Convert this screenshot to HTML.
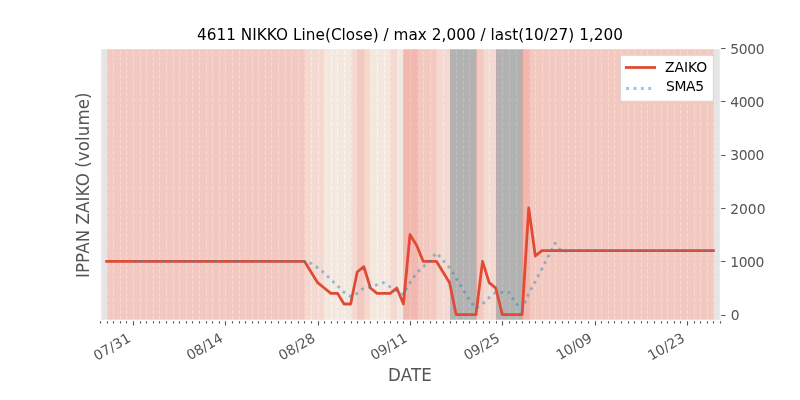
<!DOCTYPE html>
<html lang="en"><head><meta charset="utf-8"><title>4611 NIKKO</title>
<style>html,body{margin:0;padding:0;background:#fff;overflow:hidden}svg text{white-space:pre}</style></head>
<body>
<svg width="800" height="400" viewBox="0 0 800 400" style="display:block">
<rect x="0" y="0" width="800" height="400" fill="#ffffff"/>
<rect x="100.0" y="48.0" width="620.0" height="272.0" fill="#E5E5E5"/>
<defs><clipPath id="ax"><rect x="100" y="48" width="620" height="272"/></clipPath></defs>
<g clip-path="url(#ax)">
<path d="M100.5 320.0V48.0M107.5 320.0V48.0M113.5 320.0V48.0M120.5 320.0V48.0M126.5 320.0V48.0M133.5 320.0V48.0M140.5 320.0V48.0M146.5 320.0V48.0M153.5 320.0V48.0M159.5 320.0V48.0M166.5 320.0V48.0M173.5 320.0V48.0M179.5 320.0V48.0M186.5 320.0V48.0M192.5 320.0V48.0M199.5 320.0V48.0M206.5 320.0V48.0M212.5 320.0V48.0M219.5 320.0V48.0M225.5 320.0V48.0M232.5 320.0V48.0M239.5 320.0V48.0M245.5 320.0V48.0M252.5 320.0V48.0M258.5 320.0V48.0M265.5 320.0V48.0M271.5 320.0V48.0M278.5 320.0V48.0M285.5 320.0V48.0M291.5 320.0V48.0M298.5 320.0V48.0M304.5 320.0V48.0M311.5 320.0V48.0M318.5 320.0V48.0M324.5 320.0V48.0M331.5 320.0V48.0M337.5 320.0V48.0M344.5 320.0V48.0M351.5 320.0V48.0M357.5 320.0V48.0M364.5 320.0V48.0M370.5 320.0V48.0M377.5 320.0V48.0M384.5 320.0V48.0M390.5 320.0V48.0M397.5 320.0V48.0M403.5 320.0V48.0M410.5 320.0V48.0M417.5 320.0V48.0M423.5 320.0V48.0M430.5 320.0V48.0M436.5 320.0V48.0M443.5 320.0V48.0M450.5 320.0V48.0M456.5 320.0V48.0M463.5 320.0V48.0M469.5 320.0V48.0M476.5 320.0V48.0M483.5 320.0V48.0M489.5 320.0V48.0M496.5 320.0V48.0M502.5 320.0V48.0M509.5 320.0V48.0M516.5 320.0V48.0M522.5 320.0V48.0M529.5 320.0V48.0M535.5 320.0V48.0M542.5 320.0V48.0M549.5 320.0V48.0M555.5 320.0V48.0M562.5 320.0V48.0M568.5 320.0V48.0M575.5 320.0V48.0M581.5 320.0V48.0M588.5 320.0V48.0M595.5 320.0V48.0M601.5 320.0V48.0M608.5 320.0V48.0M614.5 320.0V48.0M621.5 320.0V48.0M628.5 320.0V48.0M634.5 320.0V48.0M641.5 320.0V48.0M647.5 320.0V48.0M654.5 320.0V48.0M661.5 320.0V48.0M667.5 320.0V48.0M674.5 320.0V48.0M680.5 320.0V48.0M687.5 320.0V48.0M694.5 320.0V48.0M700.5 320.0V48.0M707.5 320.0V48.0M713.5 320.0V48.0M720.5 320.0V48.0" fill="none" stroke="#ffffff" stroke-width="1.111" stroke-dasharray="4.111 1.778"/>
<rect x="107.5" y="48.5" width="197.0" height="272.0" fill="#FDAD9D" fill-opacity="0.5" stroke="#FDAD9D" stroke-opacity="0.5" stroke-width="0.694"/>
<rect x="304.5" y="48.5" width="20.0" height="272.0" fill="#FFCDBF" fill-opacity="0.5" stroke="#FFCDBF" stroke-opacity="0.5" stroke-width="0.694"/>
<rect x="324.5" y="48.5" width="27.0" height="272.0" fill="#FFEBDB" fill-opacity="0.5" stroke="#FFEBDB" stroke-opacity="0.5" stroke-width="0.694"/>
<rect x="351.5" y="48.5" width="6.0" height="272.0" fill="#FFCDBF" fill-opacity="0.5" stroke="#FFCDBF" stroke-opacity="0.5" stroke-width="0.694"/>
<rect x="357.5" y="48.5" width="7.0" height="272.0" fill="#FDAD9D" fill-opacity="0.5" stroke="#FDAD9D" stroke-opacity="0.5" stroke-width="0.694"/>
<rect x="364.5" y="48.5" width="6.0" height="272.0" fill="#FFCDBF" fill-opacity="0.5" stroke="#FFCDBF" stroke-opacity="0.5" stroke-width="0.694"/>
<rect x="370.5" y="48.5" width="20.0" height="272.0" fill="#FFEBDB" fill-opacity="0.5" stroke="#FFEBDB" stroke-opacity="0.5" stroke-width="0.694"/>
<rect x="390.5" y="48.5" width="7.0" height="272.0" fill="#FFCDBF" fill-opacity="0.5" stroke="#FFCDBF" stroke-opacity="0.5" stroke-width="0.694"/>
<rect x="397.5" y="48.5" width="6.0" height="272.0" fill="#FFEBDB" fill-opacity="0.5" stroke="#FFEBDB" stroke-opacity="0.5" stroke-width="0.694"/>
<rect x="403.5" y="48.5" width="14.0" height="272.0" fill="#FD8B79" fill-opacity="0.5" stroke="#FD8B79" stroke-opacity="0.5" stroke-width="0.694"/>
<rect x="417.5" y="48.5" width="19.0" height="272.0" fill="#FDAD9D" fill-opacity="0.5" stroke="#FDAD9D" stroke-opacity="0.5" stroke-width="0.694"/>
<rect x="436.5" y="48.5" width="14.0" height="272.0" fill="#FFCDBF" fill-opacity="0.5" stroke="#FFCDBF" stroke-opacity="0.5" stroke-width="0.694"/>
<rect x="450.5" y="48.5" width="26.0" height="272.0" fill="#808080" fill-opacity="0.5" stroke="#808080" stroke-opacity="0.5" stroke-width="0.694"/>
<rect x="476.5" y="48.5" width="7.0" height="272.0" fill="#FDAD9D" fill-opacity="0.5" stroke="#FDAD9D" stroke-opacity="0.5" stroke-width="0.694"/>
<rect x="483.5" y="48.5" width="13.0" height="272.0" fill="#FFCDBF" fill-opacity="0.5" stroke="#FFCDBF" stroke-opacity="0.5" stroke-width="0.694"/>
<rect x="496.5" y="48.5" width="26.0" height="272.0" fill="#808080" fill-opacity="0.5" stroke="#808080" stroke-opacity="0.5" stroke-width="0.694"/>
<rect x="522.5" y="48.5" width="7.0" height="272.0" fill="#FD8B79" fill-opacity="0.5" stroke="#FD8B79" stroke-opacity="0.5" stroke-width="0.694"/>
<rect x="529.5" y="48.5" width="184.0" height="272.0" fill="#FDAD9D" fill-opacity="0.5" stroke="#FDAD9D" stroke-opacity="0.5" stroke-width="0.694"/>
<polyline points="106.60,261.33 113.19,261.33 119.79,261.33 126.38,261.33 132.98,261.33 139.57,261.33 146.17,261.33 152.77,261.33 159.36,261.33 165.96,261.33 172.55,261.33 179.15,261.33 185.74,261.33 192.34,261.33 198.94,261.33 205.53,261.33 212.13,261.33 218.72,261.33 225.32,261.33 231.91,261.33 238.51,261.33 245.11,261.33 251.70,261.33 258.30,261.33 264.89,261.33 271.49,261.33 278.09,261.33 284.68,261.33 291.28,261.33 297.87,261.33 304.47,261.33 311.06,272.00 317.66,282.67 324.26,288.00 330.85,293.33 337.45,293.33 344.04,304.00 350.64,304.00 357.23,272.00 363.83,266.67 370.43,288.00 377.02,293.33 383.62,293.33 390.21,293.33 396.81,288.00 403.40,304.00 410.00,234.67 416.60,245.33 423.19,261.33 429.79,261.33 436.38,261.33 442.98,272.00 449.57,282.67 456.17,314.67 462.77,314.67 469.36,314.67 475.96,314.67 482.55,261.33 489.15,282.67 495.74,288.00 502.34,314.67 508.94,314.67 515.53,314.67 522.13,314.67 528.72,208.00 535.32,256.00 541.91,250.67 548.51,250.67 555.11,250.67 561.70,250.67 568.30,250.67 574.89,250.67 581.49,250.67 588.09,250.67 594.68,250.67 601.28,250.67 607.87,250.67 614.47,250.67 621.06,250.67 627.66,250.67 634.26,250.67 640.85,250.67 647.45,250.67 654.04,250.67 660.64,250.67 667.23,250.67 673.83,250.67 680.43,250.67 687.02,250.67 693.62,250.67 700.21,250.67 706.81,250.67 713.40,250.67" fill="none" stroke="#E24A33" stroke-width="2.778" stroke-linecap="square" stroke-linejoin="round"/>
<polyline points="132.98,261.33 139.57,261.33 146.17,261.33 152.77,261.33 159.36,261.33 165.96,261.33 172.55,261.33 179.15,261.33 185.74,261.33 192.34,261.33 198.94,261.33 205.53,261.33 212.13,261.33 218.72,261.33 225.32,261.33 231.91,261.33 238.51,261.33 245.11,261.33 251.70,261.33 258.30,261.33 264.89,261.33 271.49,261.33 278.09,261.33 284.68,261.33 291.28,261.33 297.87,261.33 304.47,261.33 311.06,263.47 317.66,267.73 324.26,273.07 330.85,279.47 337.45,285.87 344.04,292.27 350.64,296.53 357.23,293.33 363.83,288.00 370.43,286.93 377.02,284.80 383.62,282.67 390.21,286.93 396.81,291.20 403.40,294.40 410.00,282.67 416.60,273.07 423.19,266.67 429.79,261.33 436.38,252.80 442.98,260.27 449.57,267.73 456.17,278.40 462.77,289.07 469.36,299.73 475.96,308.27 482.55,304.00 489.15,297.60 495.74,292.27 502.34,292.27 508.94,292.27 515.53,302.93 522.13,309.33 528.72,293.33 535.32,281.60 541.91,268.80 548.51,256.00 555.11,243.20 561.70,251.73 568.30,250.67 574.89,250.67 581.49,250.67 588.09,250.67 594.68,250.67 601.28,250.67 607.87,250.67 614.47,250.67 621.06,250.67 627.66,250.67 634.26,250.67 640.85,250.67 647.45,250.67 654.04,250.67 660.64,250.67 667.23,250.67 673.83,250.67 680.43,250.67 687.02,250.67 693.62,250.67 700.21,250.67 706.81,250.67 713.40,250.67" fill="none" stroke="#348ABD" stroke-opacity="0.5" stroke-width="2.778" stroke-dasharray="2.778 4.583" stroke-linejoin="round"/>
</g>
<path d="M100.5 320.5v3.00M107.5 320.5v3.00M113.5 320.5v3.00M120.5 320.5v3.00M126.5 320.5v3.00M133.5 320.5v5.00M140.5 320.5v3.00M146.5 320.5v3.00M153.5 320.5v3.00M159.5 320.5v3.00M166.5 320.5v3.00M173.5 320.5v3.00M179.5 320.5v3.00M186.5 320.5v3.00M192.5 320.5v3.00M199.5 320.5v3.00M206.5 320.5v3.00M212.5 320.5v3.00M219.5 320.5v3.00M225.5 320.5v5.00M232.5 320.5v3.00M239.5 320.5v3.00M245.5 320.5v3.00M252.5 320.5v3.00M258.5 320.5v3.00M265.5 320.5v3.00M271.5 320.5v3.00M278.5 320.5v3.00M285.5 320.5v3.00M291.5 320.5v3.00M298.5 320.5v3.00M304.5 320.5v3.00M311.5 320.5v3.00M318.5 320.5v5.00M324.5 320.5v3.00M331.5 320.5v3.00M337.5 320.5v3.00M344.5 320.5v3.00M351.5 320.5v3.00M357.5 320.5v3.00M364.5 320.5v3.00M370.5 320.5v3.00M377.5 320.5v3.00M384.5 320.5v3.00M390.5 320.5v3.00M397.5 320.5v3.00M403.5 320.5v3.00M410.5 320.5v5.00M417.5 320.5v3.00M423.5 320.5v3.00M430.5 320.5v3.00M436.5 320.5v3.00M443.5 320.5v3.00M450.5 320.5v3.00M456.5 320.5v3.00M463.5 320.5v3.00M469.5 320.5v3.00M476.5 320.5v3.00M483.5 320.5v3.00M489.5 320.5v3.00M496.5 320.5v3.00M502.5 320.5v5.00M509.5 320.5v3.00M516.5 320.5v3.00M522.5 320.5v3.00M529.5 320.5v3.00M535.5 320.5v3.00M542.5 320.5v3.00M549.5 320.5v3.00M555.5 320.5v3.00M562.5 320.5v3.00M568.5 320.5v3.00M575.5 320.5v3.00M581.5 320.5v3.00M588.5 320.5v3.00M595.5 320.5v5.00M601.5 320.5v3.00M608.5 320.5v3.00M614.5 320.5v3.00M621.5 320.5v3.00M628.5 320.5v3.00M634.5 320.5v3.00M641.5 320.5v3.00M647.5 320.5v3.00M654.5 320.5v3.00M661.5 320.5v3.00M667.5 320.5v3.00M674.5 320.5v3.00M680.5 320.5v3.00M687.5 320.5v5.00M694.5 320.5v3.00M700.5 320.5v3.00M707.5 320.5v3.00M713.5 320.5v3.00M720.5 320.5v3.00M720.5 315.5h5M720.5 261.5h5M720.5 208.5h5M720.5 155.5h5M720.5 101.5h5M720.5 48.5h5" fill="none" stroke="#555555" stroke-width="1.111"/>
<path d="M100.5 320.5V48.5M720.5 320.5V48.5M100.5 320.5H720.5M100.5 48.5H720.5" fill="none" stroke="#ffffff" stroke-width="1.389" stroke-linecap="square"/>
<text transform="translate(131.54 340.96) rotate(-30)" text-anchor="end" textLength="40.0" lengthAdjust="spacing" font-family="'DejaVu Sans','Liberation Sans',sans-serif" font-size="13.889" fill="#555555">07/31</text>
<text transform="translate(223.88 340.96) rotate(-30)" text-anchor="end" textLength="39.2" lengthAdjust="spacing" font-family="'DejaVu Sans','Liberation Sans',sans-serif" font-size="13.889" fill="#555555">08/14</text>
<text transform="translate(316.22 340.96) rotate(-30)" text-anchor="end" textLength="39.4" lengthAdjust="spacing" font-family="'DejaVu Sans','Liberation Sans',sans-serif" font-size="13.889" fill="#555555">08/28</text>
<text transform="translate(408.06 340.96) rotate(-30)" text-anchor="end" textLength="39.3" lengthAdjust="spacing" font-family="'DejaVu Sans','Liberation Sans',sans-serif" font-size="13.889" fill="#555555">09/11</text>
<text transform="translate(500.90 340.96) rotate(-30)" text-anchor="end" textLength="38.9" lengthAdjust="spacing" font-family="'DejaVu Sans','Liberation Sans',sans-serif" font-size="13.889" fill="#555555">09/25</text>
<text transform="translate(593.24 340.96) rotate(-30)" text-anchor="end" textLength="38.8" lengthAdjust="spacing" font-family="'DejaVu Sans','Liberation Sans',sans-serif" font-size="13.889" fill="#555555">10/09</text>
<text transform="translate(685.58 340.96) rotate(-30)" text-anchor="end" textLength="39.6" lengthAdjust="spacing" font-family="'DejaVu Sans','Liberation Sans',sans-serif" font-size="13.889" fill="#555555">10/23</text>
<text x="730.72" y="319.94" font-family="'DejaVu Sans','Liberation Sans',sans-serif" font-size="13.889" fill="#555555">0</text>
<text x="730.22" y="266.61" textLength="34.1" lengthAdjust="spacing" font-family="'DejaVu Sans','Liberation Sans',sans-serif" font-size="13.889" fill="#555555">1000</text>
<text x="730.22" y="214.28" textLength="35.3" lengthAdjust="spacing" font-family="'DejaVu Sans','Liberation Sans',sans-serif" font-size="13.889" fill="#555555">2000</text>
<text x="730.22" y="159.94" textLength="34.1" lengthAdjust="spacing" font-family="'DejaVu Sans','Liberation Sans',sans-serif" font-size="13.889" fill="#555555">3000</text>
<text x="730.22" y="106.61" textLength="34.1" lengthAdjust="spacing" font-family="'DejaVu Sans','Liberation Sans',sans-serif" font-size="13.889" fill="#555555">4000</text>
<text x="730.22" y="54.18" textLength="34.4" lengthAdjust="spacing" font-family="'DejaVu Sans','Liberation Sans',sans-serif" font-size="13.889" fill="#555555">5000</text>
<text transform="translate(410.0 380.5) scale(1 1.065)" text-anchor="middle" textLength="43.8" lengthAdjust="spacing" font-family="'DejaVu Sans','Liberation Sans',sans-serif" font-size="16.667" fill="#555555">DATE</text>
<text transform="translate(89.15 185.25) rotate(-90) scale(1 1.07)" text-anchor="middle" textLength="185.7" lengthAdjust="spacing" font-family="'DejaVu Sans','Liberation Sans',sans-serif" font-size="16.667" fill="#555555">IPPAN ZAIKO (volume)</text>
<text x="410" y="39.67" text-anchor="middle" textLength="426.1" lengthAdjust="spacing" font-family="'DejaVu Sans','Liberation Sans',sans-serif" font-size="15.278" fill="#000000">4611 NIKKO Line(Close) / max 2,000 / last(10/27) 1,200</text>
<rect x="620.5" y="55.3" width="92.95" height="45.95" rx="1.80" ry="1.80" fill="#ffffff" stroke="#cccccc" stroke-width="0.694"/>
<path d="M626.32 67.50H654.60" fill="none" stroke="#E24A33" stroke-width="2.778" stroke-linecap="square"/>
<path d="M626.22 88.50H654.60" fill="none" stroke="#348ABD" stroke-opacity="0.5" stroke-width="2.778" stroke-dasharray="2.778 4.583"/>
<text x="664.91" y="71.75" font-family="'DejaVu Sans','Liberation Sans',sans-serif" font-size="13.889" fill="#000000">ZAIKO</text>
<text x="666.01" y="91.44" textLength="38.0" lengthAdjust="spacing" font-family="'DejaVu Sans','Liberation Sans',sans-serif" font-size="13.889" fill="#000000">SMA5</text>
</svg>
</body></html>
